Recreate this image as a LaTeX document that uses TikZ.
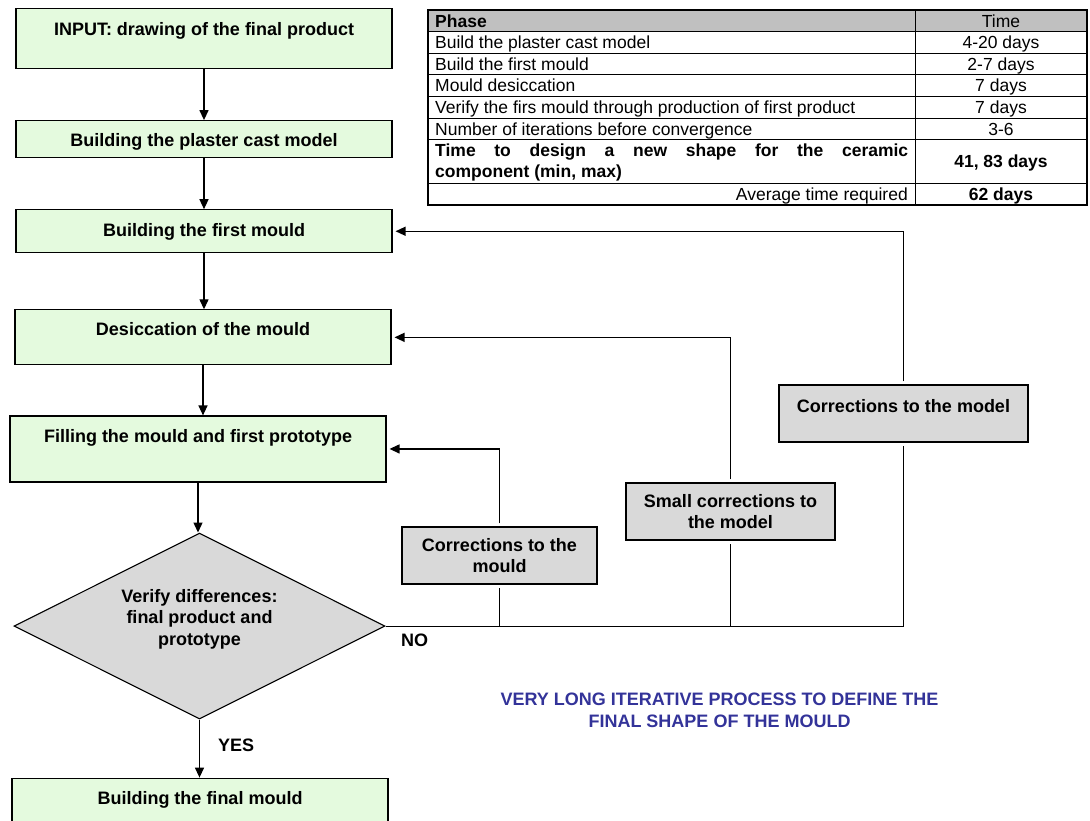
\documentclass[tikz,border=0pt]{standalone}
\usepackage{fontspec}
\setmainfont{Liberation Sans}
\usepackage{xcolor}
\usetikzlibrary{shapes.geometric, arrows.meta, positioning}

\definecolor{stagegreen}{RGB}{228,250,222}
\definecolor{fixgray}{RGB}{217,217,217}
\definecolor{headgray}{RGB}{192,192,192}
\definecolor{noteblue}{RGB}{51,51,153}

\newcommand{\stagefont}{\fontsize{18}{21.5}\selectfont\bfseries}
\newcommand{\cellfont}{\fontsize{17.5}{21.5}\selectfont}

\begin{document}
\begin{tikzpicture}[x=1pt, y=-1pt,
    stage/.style={rectangle, draw=black, line width=1.1pt, fill=stagegreen,
                  minimum width=376pt, inner sep=0pt, font=\stagefont},
    decision/.style={diamond, aspect=2, draw=black, line width=1.1pt, fill=fixgray,
                     minimum width=371pt, minimum height=186pt,
                     inner sep=0pt, font=\stagefont},
    fix/.style={rectangle, draw=black, line width=1.1pt, fill=fixgray,
                minimum height=57pt, inner sep=0pt, align=center, font=\stagefont},
    flag/.style={inner sep=0pt, font=\stagefont},
    cell/.style={inner sep=0pt, text height=12.6pt, text depth=0pt, font=\cellfont},
    arrow/.style={-{Triangle[length=10pt, width=9pt]}, line width=1.3pt},
    link/.style={line width=1pt},
    tabline/.style={line width=1pt}
]
\useasboundingbox (0,0) rectangle (1090,820);

% main column
\node (b1) [stage, anchor=north, text height=26.5pt, text depth=33.5pt] at (204,8)
      {INPUT: drawing of the final product};
\node (b2) [stage, below=51pt of b1, text height=25.5pt, text depth=11.5pt]
      {Building the plaster cast model};
\node (b3) [stage, below=51pt of b2, text height=26.5pt, text depth=16.5pt]
      {Building the first mould};
\node (b4) [stage, below=56pt of b3, xshift=-1pt, text height=25.5pt, text depth=29.5pt]
      {Desiccation of the mould};
\node (b5) [stage, below=50pt of b4, xshift=-5pt, text height=26.5pt, text depth=39.5pt]
      {Filling the mould and first prototype};
\node (d)  [decision, below=50pt of b5, xshift=1.5pt, text height=37pt, text depth=42pt]
      {\begin{tabular}{@{}c@{}}Verify differences:\\final product and\\prototype\end{tabular}};
\node (b6) [stage, below=58pt of d, xshift=0.5pt, text height=26.5pt, text depth=17.5pt]
      {Building the final mould};

% corrections
\node (cm1) [fix, minimum width=195pt] at (499.5,555.5) {Corrections to the\\mould};
\node (cm2) [fix, minimum width=209pt] at (730.5,511.5) {Small corrections to\\the model};
\node (cm3) [fix, minimum width=249pt, text height=27.5pt, text depth=29.5pt]
      at (903.5,413.5) {Corrections to the model};
\coordinate (nojoin) at (cm3.south |- d.east);

\draw [arrow] (b1.south) -- (b1.south |- b2.north);
\draw [arrow] (b2.south) -- (b2.south |- b3.north);
\draw [arrow] (b3.south) -- (b3.south |- b4.north);
\draw [arrow] (b4.south) -- (b4.south |- b5.north);
\draw [arrow] (b5.south) -- (b5.south |- d.north);
\draw [arrow] (d.south) -- node[flag, right=18pt, yshift=3pt]{YES} (d.south |- b6.north);

\draw [link] (d.east) -- node[flag, pos=0, anchor=north west, xshift=15pt, yshift=-7pt]{NO} (nojoin);
\draw [link, shorten >=3pt] (cm1.south |- d.east) -- (cm1.south);
\draw [link, shorten >=3pt] (cm2.south |- d.east) -- (cm2.south);
\draw [link, shorten >=3pt] (nojoin) -- (cm3.south);
\draw [arrow, shorten <=3pt, shorten >=3pt] (cm1.north) |- (b5.east);
\draw [arrow, shorten <=3pt, shorten >=3pt] (cm2.north) |- (b4.east);
\draw [arrow, shorten <=3pt, shorten >=3pt] (cm3.north) |- (b3.east);

\node (note) [flag, text=noteblue, align=center] at (719.5,710.5)
      {VERY LONG ITERATIVE PROCESS TO DEFINE THE\\FINAL SHAPE OF THE MOULD};

% phase table
\draw [tabline, fill=headgray] (428,10) rectangle (1087,31.6);
\foreach \y in {53.2,74.8,96.4,118,139.6,183.2}
  \draw [tabline] (428,\y) -- (1087,\y);
\draw [tabline] (915,10) -- (915,204.8);
\draw [line width=1.4pt] (428,10) rectangle (1087,204.8);

\node (ph)  [cell, anchor=west, font=\cellfont\bfseries] at (435,20.8) {Phase};
\node (tm)  [cell] at (1001,20.8) {Time};
\node (r1a) [cell, anchor=west] at (435,42.4) {Build the plaster cast model};
\node (r1b) [cell] at (1001,42.4) {4-20 days};
\node (r2a) [cell, anchor=west] at (435,64) {Build the first mould};
\node (r2b) [cell] at (1001,64) {2-7 days};
\node (r3a) [cell, anchor=west] at (435,85.6) {Mould desiccation};
\node (r3b) [cell] at (1001,85.6) {7 days};
\node (r4a) [cell, anchor=west] at (435,107.2) {Verify the firs mould through production of first product};
\node (r4b) [cell] at (1001,107.2) {7 days};
\node (r5a) [cell, anchor=west] at (435,128.8) {Number of iterations before convergence};
\node (r5b) [cell] at (1001,128.8) {3-6};
\node (r6a) [inner sep=0pt, anchor=west, text width=473pt, align=justify,
             font=\cellfont\bfseries] at (435,162.4)
      {Time to design a new shape for the ceramic\linebreak component (min, max)};
\node (r6b) [cell, font=\cellfont\bfseries] at (1001,161.4) {41, 83 days};
\node (r7a) [cell, anchor=east] at (908,194) {Average time required};
\node (r7b) [cell, font=\cellfont\bfseries] at (1001,194) {62 days};
\end{tikzpicture}
\end{document}
